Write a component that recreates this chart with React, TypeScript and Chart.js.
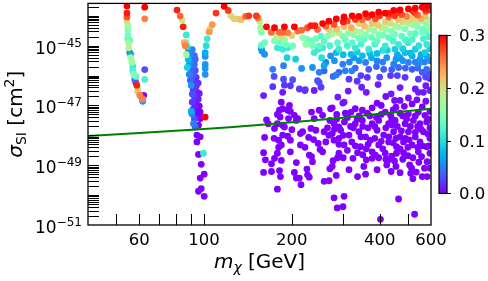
import React, { useEffect, useRef } from "react";
import { Chart, registerables } from "chart.js";

Chart.register(...registerables);

// [mass in GeV, log10(sigma_SI / cm^2), colour value]
const hFunnelPoints: [number, number, number][] = [
  [54.4,-43.67,.30],[54.4,-43.91,.29],[54.4,-44.04,.27],[54.4,-44.17,.20],[54.8,-44.34,.17],[54.8,-44.47,.15],
  [54.8,-44.64,.14],[54.8,-44.77,.12],[55.2,-44.9,.17],[55.2,-45.07,.18],[55.6,-45.23,.05],[56.1,-45.4,.17],
  [56.5,-45.56,.16],[57.0,-45.7,.11],[57.0,-45.83,.12],[57.4,-45.96,.15],[57.9,-46.13,.04],[58.3,-46.23,.03],
  [58.8,-46.32,.29],[59.2,-46.42,.15],[59.2,-46.52,.22],[60.2,-46.66,.25],[61.1,-46.72,.03],[61.6,-46.79,.25],
  [61.6,-46.86,.06],[62.1,-46.66,0],[62.6,-43.71,.30],[62.6,-44.10,.25],[62.6,-45.8,.03],[62.6,-46.13,.12],
  [56.1,-45.3,.07],[55.6,-44.83,.13],[58.3,-46.03,.13],
];

const zFunnelPoints: [number, number, number][] = [
  [80.8,-43.81,.29],[82.8,-44.01,.26],[84.1,-44.14,.19],[84.8,-44.37,.29],[86.9,-44.64,.11],[85.5,-44.9,.23],
  [86.2,-45.0,.25],[86.9,-44.9,.13],[87.6,-45.03,.10],
  [88.3,-45.13,.06],[91.1,-45.13,.05],[86.9,-45.3,.17],[89.7,-45.3,.05],[92.6,-45.33,.04],[88.3,-45.46,.08],
  [91.1,-45.5,.04],[89.0,-45.63,.06],[92.6,-45.63,.04],[87.6,-45.73,.09],[90.4,-45.8,.04],[93.3,-45.83,.03],
  [89.0,-45.96,.05],[91.8,-45.99,.03],[94.0,-46.06,.02],[89.7,-46.16,.04],[92.6,-46.23,.02],[90.4,-46.33,.06],
  [94.0,-46.36,.02],[91.8,-46.49,.02],[94.8,-46.56,.01],[91.1,-46.62,.03],[93.3,-46.72,.01],[95.5,-46.79,.01],
  [91.1,-46.89,.02],[94.0,-46.96,0],[96.3,-47.02,0],[91.8,-47.12,.01],[94.8,-47.15,0],[90.4,-47.19,.07],
  [97.0,-47.22,0],[93.3,-47.29,0],[95.5,-47.32,0],
  [89.7,-45.55,.05],[93.3,-45.45,.04],[90.4,-46.0,.04],[95.5,-46.25,.02],[92.6,-46.7,.02],[96.3,-46.6,.01],
  [93.3,-47.0,.01],[96.3,-47.3,0],[92.6,-47.45,.03],
  [90.9,-47.28,.05],[94.5,-47.39,0],[97.0,-47.44,0],[100.9,-47.39,.30],[92.0,-47.61,.05],[93.3,-47.72,.04],
  [95.7,-47.66,0],[94.5,-47.99,0],[97.0,-48.05,0],[94.5,-48.22,0],[95.7,-48.64,0],[99.5,-48.6,.11],
  [97.8,-48.97,0],[100.1,-49.3,0],[97.0,-49.43,0],[95.7,-49.87,0],[97.8,-49.78,0],[100.1,-50.04,0],
  [109.9,-43.91,.28],[106.6,-44.30,.24],[104.9,-44.44,.2],[104.1,-44.54,.24],[102.5,-44.77,.11],
  [101.7,-45.0,.1],[100.9,-45.23,.07],[100.9,-45.36,.06],[100.9,-45.63,.06],[100.9,-45.76,.06],[100.9,-45.96,.06],
];

const upperBandPoints: [number, number, number][] = [
  [117.2,-43.68,.30],[121,-43.82,.28],[123.6,-44.0,.2],[126.8,-44.1,.21],[130.2,-44.1,.21],[133.6,-44.13,.22],
  [138.7,-44.02,.26],[142.3,-44.0,.28],[151.1,-44.0,.28],[153,-44.07,.25],[155.1,-44.18,.19],[156.3,-44.4,.17],
  [157.2,-44.55,.15],[163.7,-44.37,.30],[174.4,-44.4,.30],[181.4,-44.55,.26],[188.6,-44.37,.30],[204,-44.37,.30],
  [193.6,-44.57,.25],[200,-44.66,.21],[209.5,-44.51,.26],[216,-44.48,.26],[226.4,-44.4,.27],[232.5,-44.33,.29],
  [240,-44.33,.29],[245,-44.46,.26],[255,-44.26,.30],[170,-44.55,.26],[186,-44.55,.26],[177,-44.68,.18],
  [184,-44.7,.2],[188.6,-44.79,.16],[174.4,-44.84,.15],[191.1,-44.96,.14],[181.4,-44.9,.14],[161.3,-44.9,.14],
  [157.2,-44.99,.13],[178.4,-45.07,.11],[186,-45.12,.11],[193.6,-45.07,.11],[201.3,-45.01,.14],[157.2,-45.1,.06],
  [158,-45.18,.06],[161.3,-45.29,.06],[192.6,-45.4,.09],[206,-45.45,.09],[217.8,-44.73,.16],[225.3,-44.79,.14],
  [232.5,-44.84,.14],[241.7,-44.77,.14],[251.8,-44.68,.13],[223.6,-44.96,.16],[235.4,-44.99,.14],[248.2,-45.01,.13],
  [238.6,-45.23,.11],[246.2,-45.12,.11],[255,-45.07,.11],[253,-45.4,.1],[172,-45.79,.05],[187.3,-45.67,.05],
  [216,-45.76,.06],[235.4,-45.73,.06],[258,-45.67,.07],[173.8,-46.03,.03],[187.3,-46.12,.03],[201.3,-46.14,.03],
  [248.2,-45.89,.05],[245,-46.17,.03],
];

const upperRightPoints: [number, number, number][] = [
  [268,-44.18,.30],[284,-44.1,.30],[302,-44.04,.30],[322,-44.0,.30],[339.5,-44.02,.30],[358,-43.93,.30],
  [377,-43.96,.30],[397,-43.88,.30],[418,-43.91,.30],[447,-43.82,.30],[470,-43.8,.30],[502,-43.77,.30],
  [530,-43.74,.30],[560,-43.71,.30],[582,-43.68,.30],
  [261.5,-44.35,.26],[279,-44.29,.27],[310,-44.18,.27],[349,-44.13,.26],[387,-44.1,.27],[429.5,-44.04,.26],
  [476,-43.96,.27],[530,-43.91,.27],[576,-43.85,.27],
  [268.4,-44.46,.21],[302,-44.37,.22],[339.5,-44.26,.21],[377,-44.26,.22],[418,-44.21,.21],[464.5,-44.13,.22],
  [517,-44.07,.21],[572,-44.02,.22],
  [290,-44.57,.18],[330,-44.51,.18],[367,-44.44,.18],[407,-44.4,.18],[452,-44.33,.18],[502,-44.26,.18],
  [550,-44.18,.18],[585,-44.13,.18],
  [266,-44.68,.15],[299,-44.68,.15],[326,-44.63,.15],[358,-44.63,.15],[397,-44.63,.15],[440,-44.51,.15],
  [489,-44.44,.15],[537,-44.35,.15],[578,-44.26,.15],
  [258,-44.84,.13],[287,-44.9,.13],[322,-44.9,.13],[353,-44.79,.13],[392,-44.84,.13],[429.5,-44.73,.13],
  [476,-44.68,.13],[530,-44.59,.13],[578,-44.51,.13],
  [290,-45.12,.11],[330,-45.07,.11],[367,-45.12,.11],[418,-45.01,.11],[464.5,-44.96,.11],[517,-44.79,.12],
  [565,-44.77,.12],[580,-44.96,.11],
  [284,-45.23,.08],[319,-45.29,.08],[349,-45.34,.08],[392,-45.26,.08],[452,-45.12,.09],[489,-45.23,.08],
  [530,-45.12,.09],[572,-45.23,.09],
  [271.6,-45.34,.06],[326,-45.4,.06],[423,-45.4,.06],[470,-45.4,.06],[517,-45.34,.07],[550,-45.45,.06],[580,-45.34,.07],
  [261.5,-45.56,.05],[299,-45.62,.05],[358,-45.56,.05],[392,-45.51,.05],[447,-45.62,.05],[502,-45.56,.05],[543,-45.62,.05],
  [258,-45.84,.035],[290,-45.89,.035],[367,-45.79,.035],[413,-45.79,.035],[464.5,-45.73,.04],[517,-45.79,.035],
  [560,-45.89,.035],[580,-45.79,.04],
  [314,-46.12,.02],[363,-46.06,.02],[436,-46.0,.02],[489,-46.06,.02],[543,-46.12,.02],
  [284,-45.98,.05],[277,-46.03,.04],[305,-45.84,.05],[321,-45.84,.05],
  [450,-44.0,.28],[495,-44.02,.25],[540,-43.98,.26],[555,-44.1,.23],[505,-44.15,.2],[590,-43.8,.28],
  [590,-44.4,.16],[560,-44.55,.14],[590,-44.7,.12],[510,-44.6,.14],[545,-45.0,.1],[500,-44.9,.11],
  [595,-45.1,.09],[480,-45.1,.09],[595,-45.5,.06],[530,-45.55,.05],[480,-45.5,.06],[590,-45.95,.03],
  [375,-45.4,.07],[410,-45.15,.1],[340,-45.5,.06],
  [300,-44.2,.29],[330,-44.12,.28],[365,-44.05,.28],[400,-44.0,.28],[430,-43.92,.29],[460,-43.9,.28],[520,-43.85,.28],[575,-43.78,.29],
  [285,-44.45,.22],[320,-44.4,.23],[355,-44.35,.22],[395,-44.32,.21],[435,-44.25,.2],[480,-44.2,.2],[530,-44.15,.19],
  [275,-44.6,.17],[312,-44.58,.16],[345,-44.55,.17],[382,-44.5,.16],[420,-44.45,.16],[465,-44.38,.16],[520,-44.3,.16],
  [305,-44.8,.14],[340,-44.75,.14],[375,-44.72,.14],[410,-44.65,.14],[450,-44.62,.14],[560,-44.45,.14],
  [270,-45.0,.12],[310,-45.0,.12],[345,-44.95,.12],[385,-44.95,.12],[445,-44.85,.12],[490,-44.8,.12],
  [300,-45.3,.08],[335,-45.2,.09],[370,-45.25,.08],[425,-45.15,.09],[460,-45.3,.07],[510,-45.25,.08],[555,-45.3,.07],
  [280,-45.5,.06],[315,-45.55,.05],[410,-45.55,.05],[455,-45.45,.06],[570,-45.55,.05],
  [330,-45.75,.04],[390,-45.7,.04],[440,-45.8,.035],[490,-45.75,.04],[540,-45.75,.04],
  [345,-46.0,.025],[400,-46.05,.025],[460,-46.0,.025],[575,-46.05,.025],
];

const lowerCloudPoints: [number, number, number][] = [
  [188.6,-46.32,.02],[212.2,-46.45,.02],[222.3,-46.47,.02],[186,-46.56,.01],[160,-46.67,.01],[184,-46.89,0],
  [196.2,-47.0,0],[181.4,-47.16,0],[193.6,-47.16,0],[204,-47.33,0],[248.2,-46.23,.03],[251.8,-46.39,.02],
  [238.6,-46.5,.01],[287.5,-46.72,.01],[302,-46.89,.01],[271.6,-47.11,0],[255,-47.33,0],
  [172,-46.37,.02],[197.7,-46.34,.02],[221.8,-46.5,.01],[186,-47.11,0],[178.4,-47.3,0],[197.7,-47.2,0],
  [182.3,-47.39,0],[194.8,-47.44,0],[209.5,-47.44,0],[163.7,-47.48,0],[166,-47.61,0],[178.4,-47.61,0],
  [186,-47.66,0],[207.2,-47.5,0],[233.6,-47.22,0],[238.6,-47.44,0],[248.2,-47.16,0],[174.4,-47.77,0],
  [188.6,-47.72,0],[200,-47.81,0],[217.8,-47.88,0],[232.5,-47.77,0],[241.7,-47.83,0],[161.3,-48.07,0],
  [173.8,-48.1,0],[180.2,-48.16,0],[186,-47.99,0],[193.6,-48.03,0],[197.7,-48.16,0],[214,-47.94,0],
  [228.4,-48.07,0],[237.4,-48.14,0],[246.2,-48.27,0],[250,-48.47,0],[184,-48.32,0],[180.2,-48.4,0],
  [214,-48.32,0],[221.8,-48.4,0],[160,-48.58,0],[178.4,-48.6,0],[197.7,-48.55,0],[229.5,-48.66,0],
  [233.6,-48.71,0],[162.3,-48.82,0],[174.4,-48.77,0],[184,-48.84,0],[170.3,-48.95,0],[207.2,-48.91,0],
  [235.4,-48.88,0],[225.3,-49.13,0],[160,-49.24,0],[170.3,-49.21,0],[181.4,-49.18,0],[204,-49.24,0],
  [182.8,-49.38,0],[207.2,-49.43,0],[212.2,-49.43,0],[226.4,-49.32,0],[229.5,-49.4,0],[215,-49.65,0],
  [178.4,-49.8,0],[258.1,-49.54,0],
  [268.4,-49.52,0],[279.1,-50.09,0],[302,-50.04,0],[286.2,-50.43,0],[299.5,-50.39,0],[464.5,-50.13,0],
  [527,-50.64,0],[402.5,-50.81,0],[284,-49.34,0],[314,-49.15,0],[336,-49.38,0],[358,-49.3,0],[324,-48.77,0],
  [353,-49.04,0],[360,-48.82,0],[377,-48.77,0],[387,-48.66,0],[397,-48.75,0],[392,-49.15,0],[423,-48.99,0],
  [429.5,-48.82,0],[450,-48.86,0],[455,-49.04,0],[438,-49.21,0],[500,-48.68,0],[507,-48.99,0],[515,-49.1,0],
  [511,-49.27,0],[534,-49.23,0],[520,-49.45,0],[560,-49.38,0],[582,-49.38,0],[557,-48.71,0],[582,-48.88,0],
  [277,-48.85,0],[287,-48.75,0],[275,-49.04,0],[270,-49.12,0],[418,-48.6,0],[457,-48.6,0],
  [312,-46.52,.01],[335,-46.19,.02],[347,-46.39,.01],[360,-46.56,.01],[438,-46.61,.01],[502,-46.75,.005],
  [543,-46.56,.01],[576,-46.34,.01],[565,-46.56,.01],[299,-46.92,.005],[275,-47.08,0],[330,-47.11,0],
  [392,-46.92,0],[377,-47.08,0],[405,-47.0,0],[450,-46.83,.005],[470,-46.83,.005],[455,-47.06,0],[486,-47.03,0],
  [517,-46.95,0],[537,-46.81,.005],[576,-46.86,.005],[305,-47.26,0],[319,-47.22,0],[349,-47.16,0],[363,-47.26,0],
  [418,-47.22,0],[436,-47.33,0],[470,-47.26,0],[502,-47.28,0],[543,-47.22,0],[572,-47.33,0],[279,-47.61,0],
  [290,-47.72,0],[303,-47.55,0],[330,-47.61,0],[349,-47.5,0],[377,-47.61,0],[397,-47.5,0],[429.5,-47.61,0],
  [452,-47.5,0],[489,-47.61,0],[522,-47.5,0],[550,-47.61,0],[580,-47.55,0],[258,-47.88,0],[275,-47.94,0],
  [294,-47.83,0],[314,-47.99,0],[339.5,-47.88,0],[358,-48.05,0],[392,-47.83,0],[413,-47.99,0],[446.6,-47.88,0],
  [470,-48.05,0],[502,-47.88,0],[530,-48.05,0],[565,-47.88,0],[261.5,-48.22,0],[279,-48.16,0],[302,-48.32,0],
  [321,-48.22,0],[344,-48.38,0],[372,-48.16,0],[397,-48.32,0],[429.5,-48.22,0],[457,-48.38,0],[483,-48.22,0],
  [517,-48.32,0],[550,-48.22,0],[580,-48.38,0],[255,-48.55,0],[290,-48.6,0],[336,-48.58,0],[377,-48.55,0],
  [483,-48.58,0],[543,-48.55,0],
  [285,-47.3,0],[340,-47.35,0],[390,-47.4,0],[445,-47.15,0],[495,-47.45,0],[560,-47.05,0],[595,-47.2,0],
  [595,-47.75,0],[555,-47.8,0],[510,-47.7,0],[460,-47.7,0],[420,-47.75,0],[365,-47.75,0],[325,-47.75,0],
  [300,-48.0,0],[345,-48.05,0],[385,-48.1,0],[430,-48.05,0],[490,-48.1,0],[595,-48.1,0],[540,-48.4,0],
  [470,-48.45,0],[410,-48.45,0],[360,-48.45,0],[310,-48.5,0],[595,-48.6,0],[520,-48.75,0],[440,-48.7,0],
  [350,-48.65,0],[595,-49.1,0],[470,-49.25,0],[570,-49.1,0],
  [395,-46.3,.01],[470,-46.4,.01],[420,-46.7,.005],[530,-46.45,.01],[595,-46.5,.01],[595,-46.1,.015],
  [285,-47.45,0],[310,-47.4,0],[335,-47.45,0],[370,-47.35,0],[405,-47.3,0],[440,-47.45,0],[480,-47.35,0],
  [530,-47.35,0],[585,-47.45,0],[280,-47.8,0],[318,-47.7,0],[350,-47.7,0],[385,-47.7,0],[440,-47.65,0],
  [475,-47.85,0],[540,-47.7,0],[585,-47.95,0],[290,-48.3,0],[330,-48.35,0],[365,-48.3,0],[405,-48.2,0],
  [445,-48.25,0],[500,-48.4,0],[560,-48.35,0],[300,-48.75,0],[420,-48.8,0],[480,-48.8,0],[545,-48.9,0],
  [590,-48.35,0],[270,-47.5,0],[265,-47.75,0],[268,-48.0,0],[290,-48.1,0],[530,-47.9,0],[505,-48.15,0],
  [455,-48.1,0],
];

// Green exclusion-limit line
const limitMass = [40, 60, 100, 150, 200, 300, 400, 600];
const limitSigma = [9.55e-49, 1.2e-48, 1.62e-48, 2.19e-48, 2.75e-48, 3.89e-48, 5.25e-48, 7.76e-48];

// Axes
const xMin = 40, xMax = 600;
const yMin = 1e-51, yMax = 2.6e-44;
const xTickValues = [50, 60, 70, 80, 90, 100, 200, 300, 400, 500, 600];
const xTickLabels = [60, 100, 200, 400, 600];
const yDecades = [-51, -50, -49, -48, -47, -46, -45, -44];
const yLabelExponents = [-51, -49, -47, -45];
const colorTicks = [0.0, 0.1, 0.2, 0.3];
const colorMax = 0.3;

const FONT = '"DejaVu Sans", sans-serif';

function rainbow(t: number): string {
  const u = Math.max(0, Math.min(1, t));
  const r = Math.min(1, Math.abs(2 * u - 0.5));
  const g = Math.sin(Math.PI * u);
  const b = Math.cos((Math.PI * u) / 2);
  return `rgb(${Math.round(r * 255)},${Math.round(g * 255)},${Math.round(b * 255)})`;
}

type Run = { t: string; font: string; dy: number };
function drawRuns(ctx: CanvasRenderingContext2D, runs: Run[], cx: number, y: number, align: "center" | "right" = "center") {
  let total = 0;
  const w = runs.map((r) => { ctx.font = r.font; const m = ctx.measureText(r.t).width; total += m; return m; });
  let x = align === "center" ? cx - total / 2 : cx - total;
  runs.forEach((r, i) => { ctx.font = r.font; ctx.fillText(r.t, x, y + r.dy); x += w[i]; });
}

const decorPlugin = {
  id: "decor",
  afterDatasetsDraw(chart: any) {
    const { ctx, chartArea: a, scales } = chart;
    const xs = scales.x, ys = scales.y;
    ctx.save();
    ctx.strokeStyle = "#000";
    ctx.lineWidth = 1;
    ctx.beginPath();
    for (const t of xs.ticks) {
      const px = Math.round(xs.getPixelForValue(t.value)) + 0.5;
      if (px <= a.left + 1 || px >= a.right - 1) continue;
      ctx.moveTo(px, a.bottom); ctx.lineTo(px, a.bottom - 11);
    }
    for (const t of ys.ticks) {
      const py = Math.round(ys.getPixelForValue(t.value)) + 0.5;
      if (py < a.top || py > a.bottom) continue;
      ctx.moveTo(a.left, py); ctx.lineTo(a.left + 11, py);
    }
    ctx.stroke();
    ctx.lineWidth = 1.3;
    ctx.strokeRect(a.left, a.top, a.right - a.left, a.bottom - a.top);

    // y tick labels (mathtext style 10^k)
    ctx.fillStyle = "#000";
    ctx.textBaseline = "alphabetic";
    ctx.textAlign = "left";
    for (const k of yLabelExponents) {
      const py = ys.getPixelForValue(Math.pow(10, k));
      drawRuns(ctx, [
        { t: "10", font: `17px ${FONT}`, dy: 0 },
        { t: "\u2212" + String(Math.abs(k)), font: `12px ${FONT}`, dy: -7 },
      ], a.left - 6, py + 8, "right");
    }

    // colour bar
    const cb = { left: a.right + 8, right: a.right + 16, top: a.top + 32, bottom: a.top + 190 };
    const grad = ctx.createLinearGradient(0, cb.bottom, 0, cb.top);
    for (let i = 0; i <= 30; i++) grad.addColorStop(i / 30, rainbow(i / 30));
    ctx.fillStyle = grad;
    ctx.fillRect(cb.left, cb.top, cb.right - cb.left, cb.bottom - cb.top);
    ctx.lineWidth = 1.2;
    ctx.strokeRect(cb.left, cb.top, cb.right - cb.left, cb.bottom - cb.top);
    ctx.fillStyle = "#000";
    ctx.font = `16.5px ${FONT}`;
    ctx.textAlign = "left";
    ctx.textBaseline = "middle";
    ctx.lineWidth = 1;
    for (const v of colorTicks) {
      const py = Math.round(cb.bottom - (v / colorMax) * (cb.bottom - cb.top)) + 0.5;
      ctx.beginPath(); ctx.moveTo(cb.right, py); ctx.lineTo(cb.right + 4, py); ctx.stroke();
      ctx.fillText(v.toFixed(1), cb.right + 12, py + 1);
    }

    // axis titles
    ctx.textAlign = "left";
    ctx.textBaseline = "alphabetic";
    drawRuns(ctx, [
      { t: "m", font: `italic 20px ${FONT}`, dy: 0 },
      { t: "\u03C7", font: `italic 14px ${FONT}`, dy: 4 },
      { t: " [GeV]", font: `20px ${FONT}`, dy: 0 },
    ], (a.left + a.right) / 2, 268);
    ctx.save();
    ctx.translate(22, (a.top + a.bottom) / 2);
    ctx.rotate(-Math.PI / 2);
    drawRuns(ctx, [
      { t: "\u03C3", font: `italic 20px ${FONT}`, dy: 0 },
      { t: "SI", font: `14px ${FONT}`, dy: 4 },
      { t: " [cm", font: `20px ${FONT}`, dy: 0 },
      { t: "2", font: `14px ${FONT}`, dy: -8 },
      { t: "]", font: `20px ${FONT}`, dy: 0 },
    ], 0, 0);
    ctx.restore();
    ctx.restore();
  },
};

export default function App() {
  const ref = useRef<HTMLCanvasElement>(null);
  useEffect(() => {
    document.body.style.margin = "0";
    const pts = [...hFunnelPoints, ...zFunnelPoints, ...upperBandPoints, ...upperRightPoints, ...lowerCloudPoints]
      .slice().sort((p, q) => p[2] - q[2]);
    const yTicks: number[] = [];
    for (const k of yDecades) for (let m = 1; m <= 9; m++) {
      const v = m * Math.pow(10, k);
      if (v >= yMin * 0.999 && v <= yMax) yTicks.push(v);
    }
    const chart = new Chart(ref.current as HTMLCanvasElement, {
      type: "scatter",
      data: {
        datasets: [
          {
            type: "line",
            data: limitMass.map((m, i) => ({ x: m, y: limitSigma[i] })),
            borderColor: "#008000",
            borderWidth: 2,
            pointRadius: 0,
            fill: false,
            tension: 0.3,
            order: 0,
          } as any,
          {
            type: "scatter",
            data: pts.map((p) => ({ x: p[0], y: Math.pow(10, p[1]), c: p[2] })),
            backgroundColor: (ctx: any) => rainbow((ctx.raw ? ctx.raw.c : 0) / colorMax),
            pointRadius: 3.4,
            pointHoverRadius: 3.4,
            borderWidth: 0,
            clip: 0,
            order: 1,
          } as any,
        ],
      },
      options: {
        responsive: false,
        animation: false,
        devicePixelRatio: 1,
        events: [],
        layout: { padding: { top: 1, right: 57, left: 0, bottom: 0 } },
        plugins: { legend: { display: false }, tooltip: { enabled: false } },
        scales: {
          x: {
            type: "logarithmic",
            min: xMin,
            max: xMax,
            afterBuildTicks: (s: any) => { s.ticks = xTickValues.map((v) => ({ value: v })); },
            afterFit: (s: any) => { s.height = 56; s.paddingLeft = 0; s.paddingRight = 0; },
            grid: { display: false, drawTicks: false },
            border: { display: false },
            ticks: {
              autoSkip: false, maxRotation: 0, minRotation: 0, color: "#000", padding: 6,
              font: { family: FONT, size: 16.5 },
              callback: (v: any) => (xTickLabels.includes(Math.round(Number(v))) ? String(Math.round(Number(v))) : ""),
            },
          },
          y: {
            type: "logarithmic",
            min: yMin,
            max: yMax,
            afterBuildTicks: (s: any) => { s.ticks = yTicks.map((v) => ({ value: v })); },
            afterFit: (s: any) => { s.width = 88; s.paddingTop = 0; s.paddingBottom = 0; },
            grid: { display: false, drawTicks: false },
            border: { display: false },
            ticks: { display: false, autoSkip: false },
          },
        },
      } as any,
      plugins: [decorPlugin],
    });
    return () => chart.destroy();
  }, []);
  return (
    <div style={{ width: 488, height: 281 }}>
      <canvas ref={ref} width={488} height={281} style={{ display: "block" }} />
    </div>
  );
}
